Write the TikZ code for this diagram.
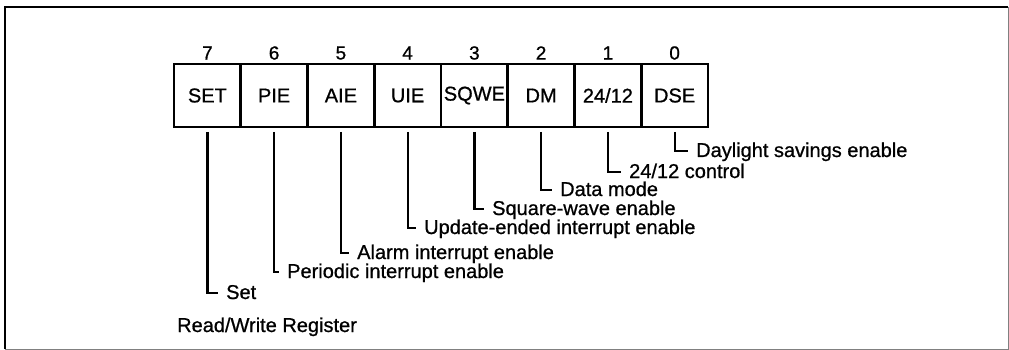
\documentclass[tikz,border=0pt]{standalone}
\usepackage{fontspec}
\setmainfont{Liberation Sans}
\newfontfamily\scanfont{Liberation Sans}[FakeBold=0.8]
\begin{document}
\begin{tikzpicture}[x=1pt,y=-1pt,
  cell/.style={draw, line width=2.6pt, minimum width=66.75pt, minimum height=63pt,
    inner sep=0pt, outer sep=0pt, font=\scanfont\fontsize{20}{24}\selectfont},
  bitnum/.style={font=\scanfont\fontsize{19}{22}\selectfont, inner sep=0pt},
  lbl/.style={anchor=west, inner sep=0pt, text height=12pt, text depth=0pt,
    font=\scanfont\fontsize{20}{24}\selectfont},
  lead/.style={line width=2.2pt}]
\useasboundingbox (0,0) rectangle (1009,350);
% frame
\draw[line width=1.5pt] (5,349) -- (5,7) -- (1008,7);
\draw[gray, line width=0.8pt] (1008,7) -- (1008,349) -- (5,349);
% register cells
\node[cell] (c7) at (207.4,95.5) {SET};
\node[cell] (c6) at (274.1,95.5) {PIE};
\node[cell] (c5) at (340.9,95.5) {AIE};
\node[cell] (c4) at (407.6,95.5) {UIE};
\node[cell] (c3) at (474.4,95.5) {SQWE};
\node[cell] (c2) at (541.1,95.5) {DM};
\node[cell] (c1) at (607.9,95.5) {24/12};
\node[cell] (c0) at (674.6,95.5) {DSE};
% bit numbers
\node[bitnum] (n7) at (207.4,53) {7};
\node[bitnum] (n6) at (274.1,53) {6};
\node[bitnum] (n5) at (340.9,53) {5};
\node[bitnum] (n4) at (407.6,53) {4};
\node[bitnum] (n3) at (474.4,53) {3};
\node[bitnum] (n2) at (541.1,53) {2};
\node[bitnum] (n1) at (607.9,53) {1};
\node[bitnum] (n0) at (674.6,53) {0};
% labels
\node[lbl] (l0) at (696,151) {Daylight savings enable};
\node[lbl] (l1) at (629,172) {24/12 control};
\node[lbl] (l2) at (560,190) {Data mode};
\node[lbl] (l3) at (492,209) {Square-wave enable};
\node[lbl] (l4) at (424,228) {Update-ended interrupt enable};
\node[lbl] (l5) at (357,253) {Alarm interrupt enable};
\node[lbl] (l6) at (287,272) {Periodic interrupt enable};
\node[lbl] (l7) at (226,293) {Set};
\node[anchor=base west, inner sep=0pt, font=\scanfont\fontsize{20}{24}\selectfont] (rw) at (177,332) {Read/Write Register};
% leads
\draw[lead] ([yshift=-5pt]c0.south) |- ([xshift=-8pt]l0.west);
\draw[lead] ([yshift=-5pt]c1.south) |- ([xshift=-8pt]l1.west);
\draw[lead] ([yshift=-5pt]c2.south) |- ([xshift=-8pt]l2.west);
\draw[lead] ([yshift=-5pt]c3.south) |- ([xshift=-8pt]l3.west);
\draw[lead] ([yshift=-5pt]c4.south) |- ([xshift=-8pt]l4.west);
\draw[lead] ([yshift=-5pt]c5.south) |- ([xshift=-8pt]l5.west);
\draw[lead] ([yshift=-5pt]c6.south) |- ([xshift=-8pt]l6.west);
\draw[lead] ([yshift=-5pt]c7.south) |- ([xshift=-8pt]l7.west);
\end{tikzpicture}
\end{document}
